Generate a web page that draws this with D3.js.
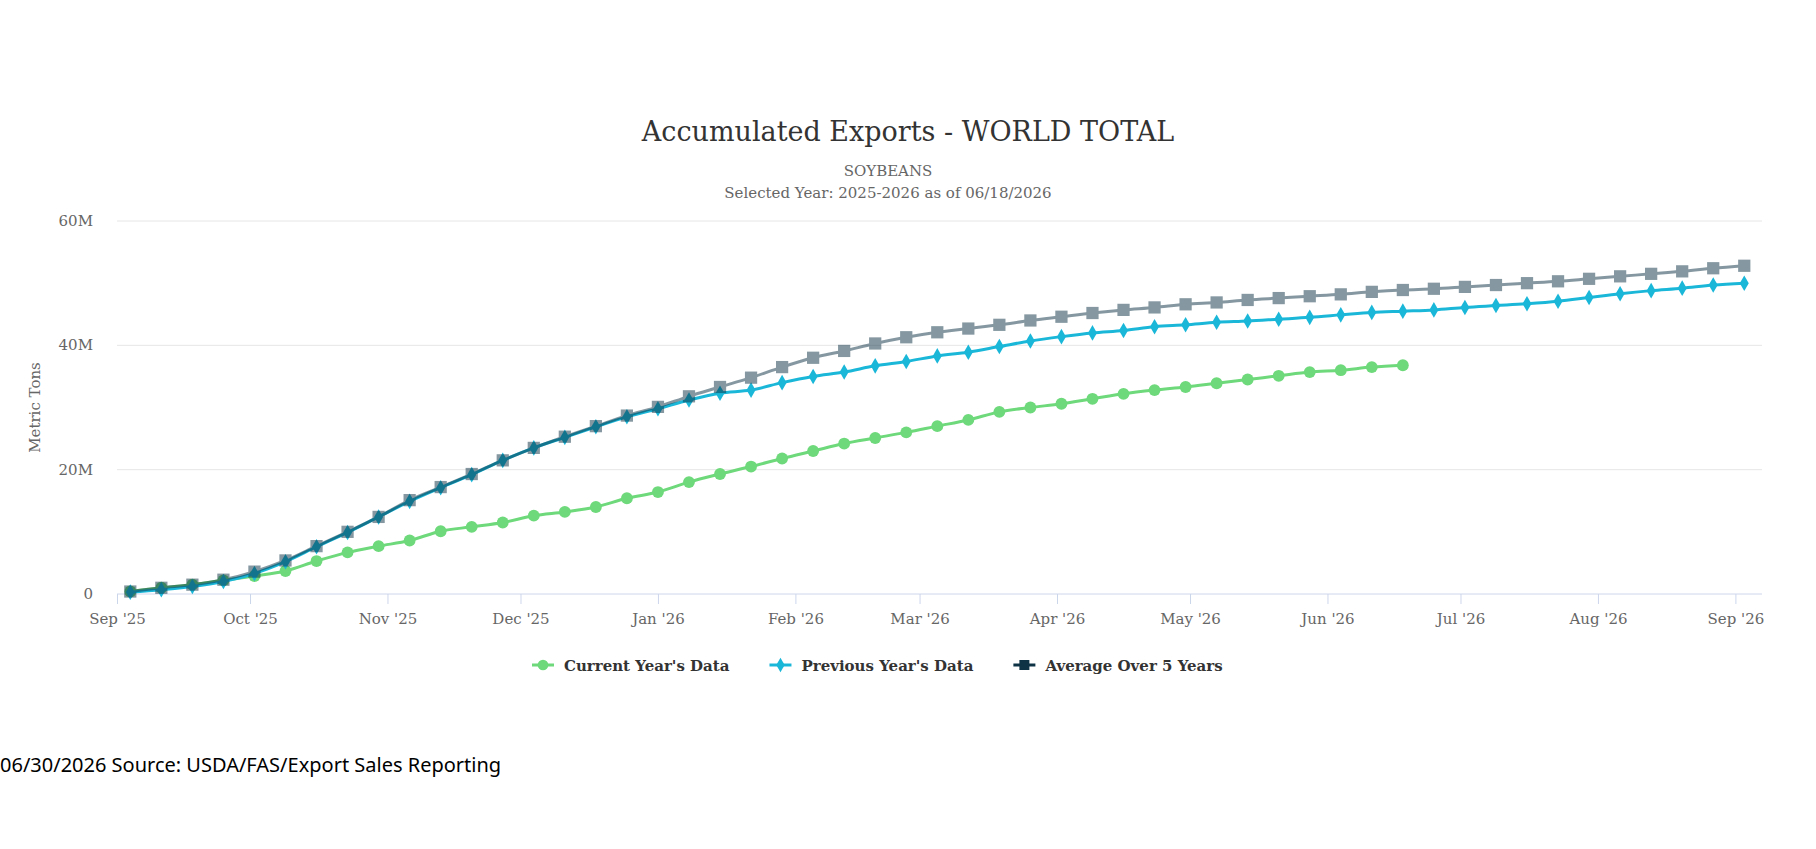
<!DOCTYPE html>
<html><head><meta charset="utf-8">
<script src="https://cdn.jsdelivr.net/npm/d3@7"></script>
<style>body{margin:0;background:#fff}</style></head>
<body><svg id="c" width="1816" height="849"></svg>
<script>
const startDate = "2025-09-04";
const current = [0.4,1.0,1.5,2.2,2.9,3.7,5.3,6.7,7.7,8.6,10.1,10.8,11.5,12.6,13.2,14.0,15.4,16.4,18.0,19.3,20.5,21.8,23.0,24.2,25.1,26.0,27.0,28.0,29.3,30.0,30.6,31.4,32.2,32.8,33.3,33.9,34.5,35.1,35.7,36.0,36.5,36.8];
const previous = [0.3,0.7,1.2,2.0,3.3,5.2,7.6,9.9,12.4,14.9,17.1,19.2,21.5,23.5,25.2,26.9,28.5,29.8,31.2,32.3,32.8,34.0,35.0,35.7,36.7,37.4,38.3,38.9,39.8,40.7,41.4,42.0,42.4,43.0,43.3,43.7,43.9,44.2,44.5,44.9,45.3,45.5,45.7,46.1,46.4,46.7,47.1,47.7,48.3,48.8,49.2,49.7,50.0];
const average = [0.4,1.0,1.5,2.3,3.6,5.4,7.7,10.0,12.4,15.1,17.2,19.3,21.5,23.5,25.3,27.0,28.7,30.1,31.8,33.3,34.8,36.5,38.0,39.1,40.3,41.3,42.1,42.7,43.3,44.0,44.6,45.2,45.7,46.1,46.6,46.9,47.3,47.6,47.9,48.2,48.6,48.9,49.1,49.4,49.7,50.0,50.3,50.7,51.1,51.5,51.9,52.4,52.8];
const yTicks = [0,20,40,60];
const yTickLabels = ["0","20M","40M","60M"];
const seriesNames = ["Current Year's Data","Previous Year's Data","Average Over 5 Years"];

const svg = d3.select("#c");
const L=117,R=1762,T=221,B=594;
const t0 = d3.timeParse("%Y-%m-%d")(startDate);
const dates = previous.map((_,i)=>d3.timeDay.offset(t0,i*7));
const x = d3.scaleTime().domain([new Date(2025,8,1),new Date(2026,8,7)]).range([L,R]);
const y = d3.scaleLinear().domain([0,60]).range([B,T]);
const serif = "'DejaVu Serif', serif";

svg.append("text").attr("x",908).attr("y",141).attr("text-anchor","middle").attr("font-family",serif).attr("font-size",27).attr("fill","#333").text("Accumulated Exports - WORLD TOTAL");
svg.append("text").attr("x",888).attr("y",176).attr("text-anchor","middle").attr("font-family",serif).attr("font-size",15).attr("fill","#666").text("SOYBEANS");
svg.append("text").attr("x",888).attr("y",198).attr("text-anchor","middle").attr("font-family",serif).attr("font-size",15).attr("fill","#666").text("Selected Year: 2025-2026 as of 06/18/2026");

// grid
svg.append("g").selectAll("line").data(yTicks.slice(1)).join("line")
  .attr("x1",L).attr("x2",R).attr("y1",d=>y(d)).attr("y2",d=>y(d)).attr("stroke","#e6e6e6");
svg.append("g").selectAll("text").data(yTicks).join("text")
  .attr("x",L-24).attr("y",d=>y(d)+5).attr("text-anchor","end").attr("font-family",serif).attr("font-size",15).attr("fill","#666")
  .text((d,i)=>yTickLabels[i]);
svg.append("text").attr("transform",`translate(40,${(T+B)/2}) rotate(-90)`).attr("text-anchor","middle").attr("font-family",serif).attr("font-size",15).attr("fill","#666").text("Metric Tons");

// x axis
const xa = svg.append("g").attr("transform",`translate(0,${B})`)
  .call(d3.axisBottom(x).ticks(d3.timeMonth.every(1)).tickSize(10).tickFormat(d3.timeFormat("%b '%y")));
xa.select(".domain").attr("stroke","#ccd6eb").attr("d",`M${L},0H${R}`);
xa.selectAll(".tick line").attr("stroke","#ccd6eb");
xa.selectAll(".tick text").attr("font-family",serif).attr("font-size",15).attr("fill","#666").attr("dy","1.1em");

const line = d3.line().x((d,i)=>x(dates[i])).y(d=>y(d)).curve(d3.curveMonotoneX);
function series(data,color,op,shape,size){
  const g=svg.append("g").attr("opacity",op);
  g.append("path").attr("d",line(data)).attr("fill","none").attr("stroke",color).attr("stroke-width",3);
  g.selectAll("path.m").data(data).join("path").attr("class","m")
   .attr("transform",(d,i)=>`translate(${x(dates[i])},${y(d)})`)
   .attr("d",d3.symbol().type(shape).size(size)).attr("fill",color);
}
series(current,"#6dd97a",1,d3.symbolCircle,110);
series(previous,"#1ab7d9",1,d3.symbolDiamond,70);
series(average,"#0e3345",0.5,d3.symbolSquare,150);

// legend
const lg = svg.append("g");
const cols=["#6dd97a","#1ab7d9","#0e3345"], shapes=[d3.symbolCircle,d3.symbolDiamond,d3.symbolSquare], sz=[90,60,100];
let xp=532;
seriesNames.forEach((n,i)=>{
  const g=lg.append("g").attr("transform",`translate(${xp},665)`);
  g.append("line").attr("x1",0).attr("x2",22).attr("stroke",cols[i]).attr("stroke-width",3);
  g.append("path").attr("transform","translate(11,0)").attr("d",d3.symbol().type(shapes[i]).size(sz[i])).attr("fill",cols[i]);
  const t=g.append("text").attr("x",32).attr("y",6).attr("font-family",serif).attr("font-size",15).attr("font-weight","bold").attr("fill","#333").text(n);
  xp += 32 + t.node().getComputedTextLength() + 40;
});

svg.append("text").attr("x",0).attr("y",772).attr("font-family","'Noto Sans', sans-serif").attr("font-size",20).attr("fill","#000").text("06/30/2026 Source: USDA/FAS/Export Sales Reporting");
</script></body></html>
